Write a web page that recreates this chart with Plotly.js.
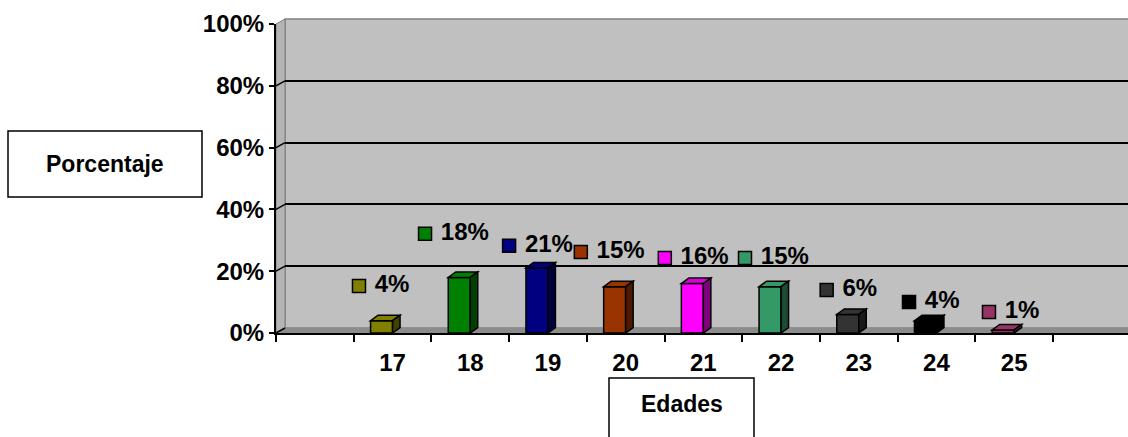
<!DOCTYPE html>
<html>
<head>
<meta charset="utf-8">
<script src="https://cdn.plot.ly/plotly-3.0.1.min.js"></script>
<style>
  html, body { margin: 0; padding: 0; background: #fff; }
  #chart { width: 1128px; height: 437px; }
</style>
</head>
<body>
<div id="chart"></div>
<script>
// Edades / porcentaje
let ages = ['17', '18', '19', '20', '21', '22', '23', '24', '25']
let shares = [4, 18, 21, 15, 16, 15, 6, 4, 1]
let pctTicks = [0, 20, 40, 60, 80, 100]

// where each data label (key square) sits, in axis units
let labelX = [1.068, 1.918, 3.0, 3.923, 5.004, 6.036, 7.087, 8.147, 9.176]
let labelY = [15.2, 32.1, 28.2, 26.2, 24.3, 24.3, 13.9, 10.0, 6.8]

let frontColors = ['#808000', '#008000', '#000080', '#993300', '#ff00ff', '#339966', '#333333', '#000000', '#993366']
let topColors = ['#808000', '#008000', '#000080', '#993300', '#dd00dd', '#339966', '#333333', '#000000', '#993366']
let sideColors = ['#404000', '#004000', '#000040', '#4d1a00', '#800080', '#1a4d33', '#1a1a1a', '#000000', '#4d1a33']

// pixel geometry of the plot
let W = 852, H = 314          // plot area (margin l 276, t 19, b 104)
let pxCat = 77.7               // px per category
let pxPct = 3.09               // px per percent
let wallDx = 9, wallDy = 5     // back wall offset in px
let barW = 0.283
let depthX = 7.5 / pxCat, depthY = 5.5 / pxPct

let font = { family: 'Liberation Sans, Arial, sans-serif', size: 24, color: '#000', weight: 700 }
let titleFont = { family: font.family, size: 23, color: '#000', weight: 700 }

let xPos = ages.map((a, i) => i + 1.5)
let boundaries = [0, 1, 2, 3, 4, 5, 6, 7, 8, 9, 10]

let traces = [
    // back wall, only used for its gridlines
    { x: [], y: [], xaxis: 'x', yaxis: 'y', type: 'scatter', showlegend: false, hoverinfo: 'skip' },
    {
        x: xPos,
        y: shares,
        xaxis: 'x2',
        yaxis: 'y2',
        type: 'bar',
        width: barW,
        offset: -barW,
        marker: { color: frontColors, line: { color: '#000', width: 1.5 } },
        showlegend: false,
        hoverinfo: 'x+y'
    },
    {
        x: labelX,
        y: labelY,
        xaxis: 'x2',
        yaxis: 'y2',
        type: 'scatter',
        mode: 'markers+text',
        text: shares.map(v => '\u00a0' + v + '%'),
        textposition: 'middle right',
        textfont: font,
        marker: { symbol: 'square', size: 13, color: frontColors, line: { color: '#000', width: 1.5 } },
        cliponaxis: false,
        showlegend: false,
        hoverinfo: 'skip'
    }
]

let px2x = px => (px - 276) / W
let px2y = py => (333 - py) / H

let shapes = [
    // back wall
    {
        type: 'rect', xref: 'paper', yref: 'paper', layer: 'below',
        x0: px2x(285), x1: 1.01, y0: px2y(328), y1: px2y(19),
        fillcolor: '#c0c0c0', line: { color: '#808080', width: 1.5 }
    },
    // side wall
    {
        type: 'path', xref: 'paper', yref: 'paper', layer: 'below',
        path: `M ${px2x(276)},${px2y(333)} L ${px2x(276)},${px2y(24)} L ${px2x(285)},${px2y(19)} L ${px2x(285)},${px2y(328)} Z`,
        fillcolor: '#b4b4b4', line: { color: '#808080', width: 1 }
    },
    // floor
    {
        type: 'path', xref: 'paper', yref: 'paper', layer: 'below',
        path: `M ${px2x(276)},${px2y(333)} L ${px2x(285)},${px2y(328)} L 1.01,${px2y(328)} L 1.01,${px2y(333)} Z`,
        fillcolor: '#8c8c8c', line: { width: 0 }
    },
    // axis title boxes
    {
        type: 'rect', xref: 'paper', yref: 'paper',
        x0: px2x(8), x1: px2x(202), y0: px2y(197), y1: px2y(131),
        line: { color: '#000', width: 1.5 }
    },
    {
        type: 'rect', xref: 'paper', yref: 'paper',
        x0: px2x(609), x1: px2x(754), y0: px2y(460), y1: px2y(378),
        line: { color: '#000', width: 1.5 }
    }
]

// little joins from the value ticks to the back wall gridlines
pctTicks.forEach(v => {
    shapes.push({
        type: 'line', xref: 'paper', yref: 'y2',
        x0: 0, x1: wallDx / W, y0: v, y1: v + wallDy / pxPct,
        line: { color: v == 100 ? '#808080' : '#000', width: 1.5 }
    })
})

// 3D faces of the columns
shares.forEach((v, i) => {
    let x0 = xPos[i] - barW, x1 = xPos[i]
    shapes.push({
        type: 'path', xref: 'x2', yref: 'y2',
        path: `M ${x0},${v} L ${x1},${v} L ${x1 + depthX},${v + depthY} L ${x0 + depthX},${v + depthY} Z`,
        fillcolor: topColors[i], line: { color: '#000', width: 1.5 }
    })
    shapes.push({
        type: 'path', xref: 'x2', yref: 'y2',
        path: `M ${x1},0 L ${x1},${v} L ${x1 + depthX},${v + depthY} L ${x1 + depthX},${depthY} Z`,
        fillcolor: sideColors[i], line: { color: '#000', width: 1.5 }
    })
})

let layout = {
    width: 1128,
    height: 437,
    margin: { l: 276, r: 0, t: 19, b: 104 },
    paper_bgcolor: '#fff',
    plot_bgcolor: 'rgba(0,0,0,0)',
    font: font,
    showlegend: false,
    xaxis: {
        domain: [wallDx / W, 1],
        range: [0, (W - wallDx) / pxCat],
        anchor: 'y',
        visible: false,
        fixedrange: true
    },
    yaxis: {
        domain: [wallDy / H, 1],
        range: [0, 100],
        anchor: 'x',
        tickmode: 'array',
        tickvals: [20, 40, 60, 80],
        showticklabels: false,
        ticks: '',
        showgrid: true,
        gridcolor: '#000',
        gridwidth: 2,
        zeroline: false,
        showline: false,
        fixedrange: true
    },
    xaxis2: {
        domain: [0, 1],
        range: [0, W / pxCat],
        anchor: 'y2',
        tickmode: 'array',
        tickvals: xPos,
        ticktext: ages,
        ticks: '',
        ticklabelstandoff: 7,
        minor: {
            tickmode: 'array',
            tickvals: boundaries,
            ticks: 'outside',
            ticklen: 7,
            tickwidth: 2,
            tickcolor: '#000',
            showgrid: false
        },
        showline: true,
        linecolor: '#000',
        linewidth: 2,
        showgrid: false,
        zeroline: false,
        tickfont: font,
        fixedrange: true
    },
    yaxis2: {
        domain: [0, (H - wallDy) / H],
        range: [0, 100],
        anchor: 'x2',
        tickmode: 'array',
        tickvals: pctTicks,
        ticktext: pctTicks.map(v => v + '%'),
        ticks: 'outside',
        ticklen: 5,
        tickwidth: 2,
        tickcolor: '#000',
        showline: true,
        linecolor: '#000',
        linewidth: 2,
        showgrid: false,
        zeroline: false,
        tickfont: font,
        fixedrange: true
    },
    shapes: shapes,
    annotations: [
        {
            text: 'Porcentaje', xref: 'paper', yref: 'paper',
            x: px2x(105), y: px2y(164), xanchor: 'center', yanchor: 'middle',
            showarrow: false, font: titleFont
        },
        {
            text: 'Edades', xref: 'paper', yref: 'paper',
            x: px2x(682), y: px2y(404), xanchor: 'center', yanchor: 'middle',
            showarrow: false, font: titleFont
        }
    ]
}

Plotly.newPlot('chart', traces, layout, { displayModeBar: false, responsive: false })
</script>
</body>
</html>
